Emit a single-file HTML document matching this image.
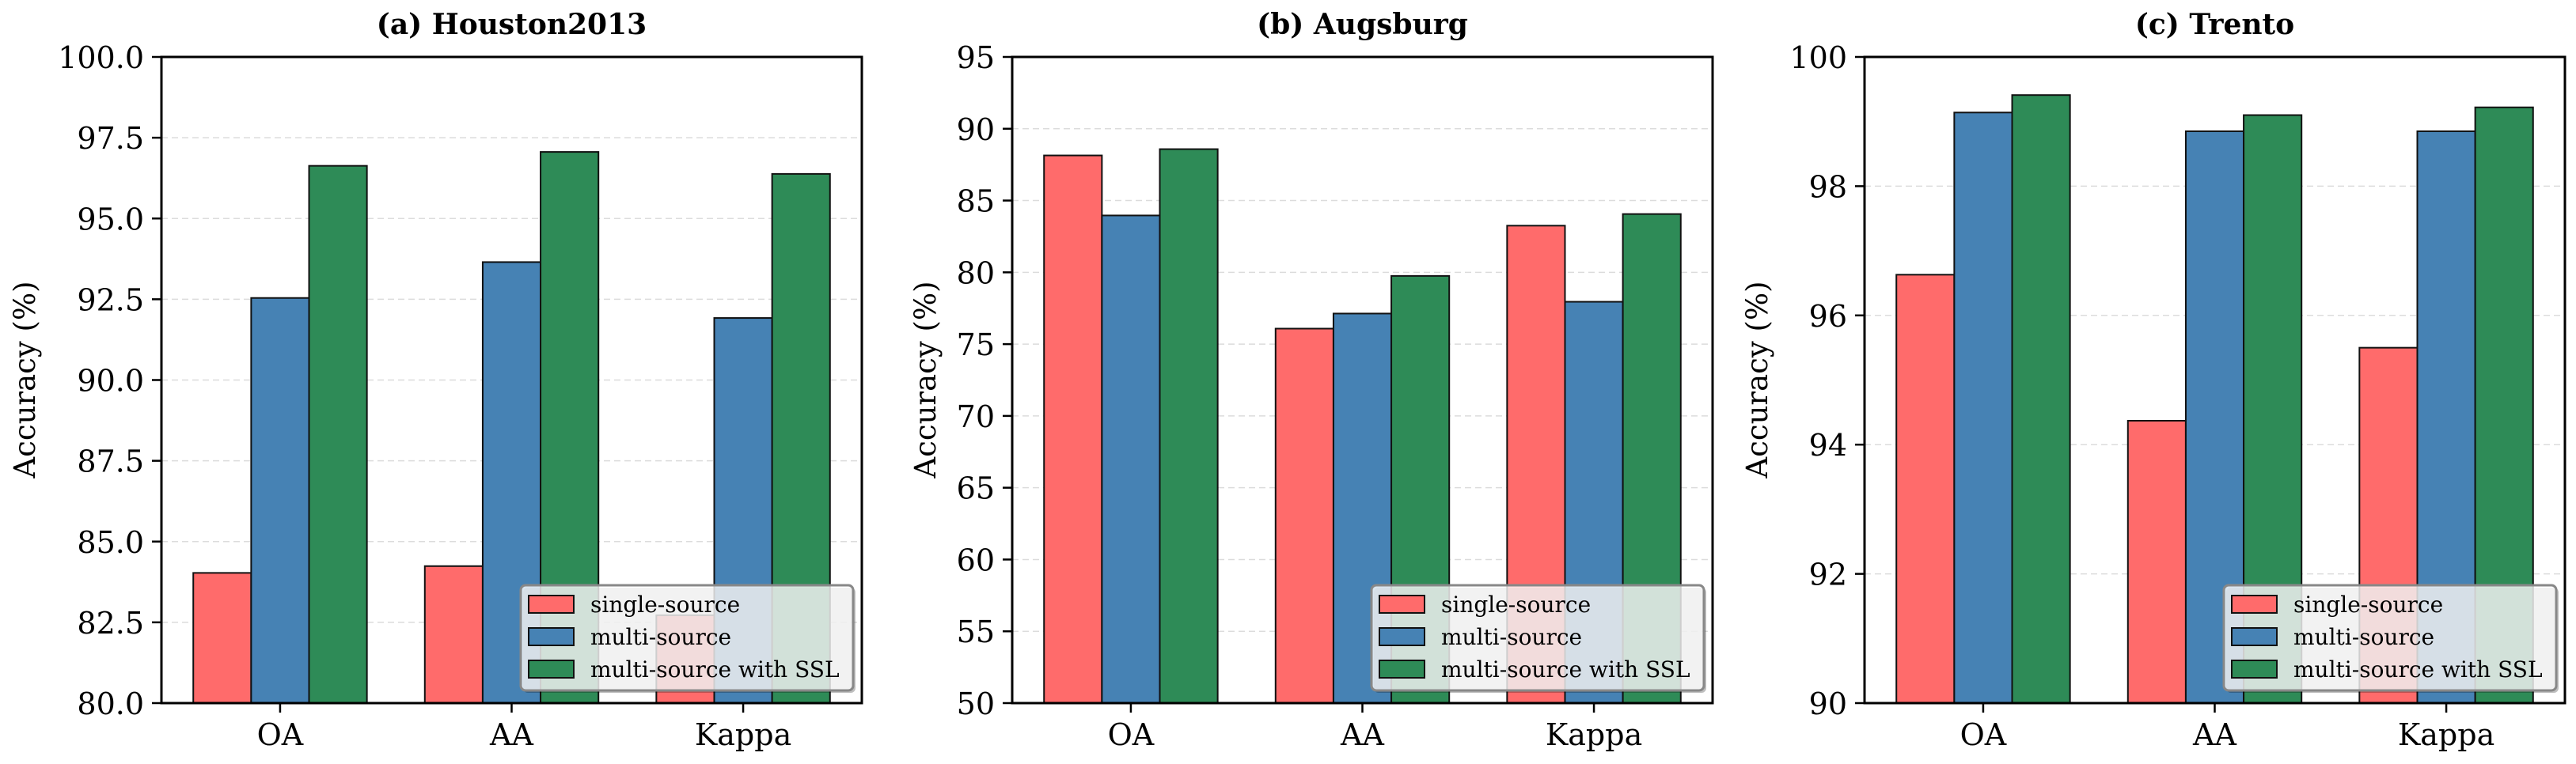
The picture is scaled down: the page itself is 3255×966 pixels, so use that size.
<!DOCTYPE html>
<html><head><meta charset="utf-8">
<style>
html,body{margin:0;padding:0;background:#fff;}
svg{display:block;font-family:"DejaVu Serif","Liberation Serif",serif;}
</style></head>
<body>
<svg id="fig" width="3255" height="966" viewBox="0 0 3255 966" xmlns="http://www.w3.org/2000/svg"></svg>
<script>
const categories = ["OA", "AA", "Kappa"];
const seriesNames = ["single-source", "multi-source", "multi-source with SSL"];
const houstonSingle = [84.03, 84.24, 82.72];
const houstonMulti = [92.54, 93.65, 91.92];
const houstonSSL = [96.63, 97.06, 96.38];
const augsburgSingle = [88.14, 76.08, 83.25];
const augsburgMulti = [83.96, 77.13, 77.95];
const augsburgSSL = [88.58, 79.75, 84.06];
const trentoSingle = [96.63, 94.37, 95.50];
const trentoMulti = [99.14, 98.85, 98.85];
const trentoSSL = [99.41, 99.10, 99.22];
const houstonTicks = [80, 82.5, 85, 87.5, 90, 92.5, 95, 97.5, 100];
const augsburgTicks = [50, 55, 60, 65, 70, 75, 80, 85, 90, 95];
const trentoTicks = [90, 92, 94, 96, 98, 100];

const colors = ["#FF6B6B", "#4682B4", "#2E8B57"];
const NS = "http://www.w3.org/2000/svg";
const svg = document.getElementById("fig");
function mk(tag, attrs, parent){
  const e = document.createElementNS(NS, tag);
  for (const k in attrs) e.setAttribute(k, attrs[k]);
  (parent || svg).appendChild(e);
  return e;
}
const panels = [
  {key:"houston", title:"(a) Houston2013", left:204, data:[houstonSingle,houstonMulti,houstonSSL], ticks:houstonTicks, min:80, max:100, dec:1},
  {key:"augsburg", title:"(b) Augsburg", left:1279, data:[augsburgSingle,augsburgMulti,augsburgSSL], ticks:augsburgTicks, min:50, max:95, dec:0},
  {key:"trento", title:"(c) Trento", left:2356, data:[trentoSingle,trentoMulti,trentoSSL], ticks:trentoTicks, min:90, max:100, dec:0}
];
const W = 885, TOP = 72, BOT = 889;
panels.forEach(p => {
  const g = mk("g", {});
  
  
  const xs = v => p.left + (v + 0.5125) / 3.025 * W;
  const ys = v => BOT - (v - p.min) / (p.max - p.min) * (BOT - TOP);
  p.ticks.forEach(t => {
    const gl = mk("line", {x1:p.left, x2:p.left+W, y1:ys(t), y2:ys(t), stroke:"#dcdcdc", "stroke-width":1.5, "stroke-dasharray":"8,5"}, g);
    
    
  });
  categories.forEach((c, i) => {
    p.data.forEach((ser, s) => {
      const cx = i + (s - 1) * 0.25;
      const x0 = xs(cx - 0.125), x1 = xs(cx + 0.125);
      const y0 = ys(ser[i]);
      const r = mk("rect", {x:x0, y:y0, width:x1-x0, height:BOT-y0, fill:colors[s], stroke:"#111", "stroke-width":2}, g);
      
      
    });
    const tk = mk("line", {x1:xs(i), x2:xs(i), y1:BOT, y2:BOT+12, stroke:"#000", "stroke-width":2.5}, g);
    
    
    const tl = mk("text", {x:xs(i), y:942, "text-anchor":"middle", "font-size":38}, g);
    tl.textContent = c;
    
    
  });
  p.ticks.forEach(t => {
    const tk = mk("line", {x1:p.left-12, x2:p.left, y1:ys(t), y2:ys(t), stroke:"#000", "stroke-width":2.5}, g);
    
    
    const tl = mk("text", {x:p.left-22, y:ys(t)+14, "text-anchor":"end", "font-size":38}, g);
    tl.textContent = t.toFixed(p.dec);
    
    
  });
  const fr = mk("rect", {x:p.left, y:TOP, width:W, height:BOT-TOP, fill:"none", stroke:"#000", "stroke-width":3}, g);
  
  
  const ti = mk("text", {x:p.left+W/2, y:43, "text-anchor":"middle", "font-size":36, "font-weight":"bold"}, g);
  ti.textContent = p.title;
  
  
  const ylx = p.key === "houston" ? 44 : (p.key === "augsburg" ? 1182 : 2233);
  const yl = mk("text", {x:ylx, y:480, "text-anchor":"middle", "font-size":37, transform:"rotate(-90 "+ylx+" 480)"}, g);
  yl.textContent = "Accuracy (%)";
  
  
  const lx = p.left + W - 11 - 420, ly = 740;
  const lg = mk("g", {}, g);
  
  
  mk("rect", {x:lx+3, y:ly+3, width:420, height:133, rx:6, fill:"#000", opacity:0.25}, lg);
  mk("rect", {x:lx, y:ly, width:420, height:133, rx:6, fill:"#fff", "fill-opacity":0.8, stroke:"#888", "stroke-width":3}, lg);
  seriesNames.forEach((n, s) => {
    const cy = ly + 24 + s * 41;
    const sw = mk("rect", {x:lx+10, y:cy-11, width:57, height:22, fill:colors[s], stroke:"#111", "stroke-width":2}, lg);
    
    
    const lt = mk("text", {x:lx+88, y:cy+10, "font-size":28}, lg);
    lt.textContent = n;
    
    
  });
});
</script>
</body></html>
